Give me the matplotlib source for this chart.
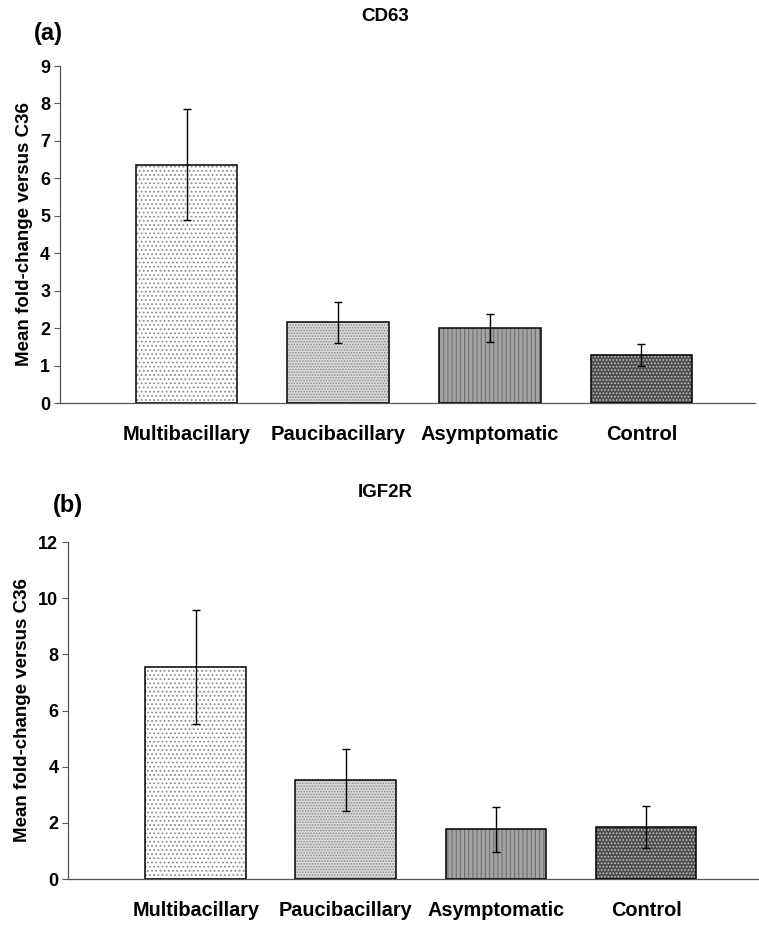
import matplotlib.pyplot as plt

plt.rcParams["font.family"] = ["Liberation Sans", "DejaVu Sans"]
plt.rcParams["hatch.linewidth"] = 0.8

GROUPS = ["Multibacillary", "Paucibacillary", "Asymptomatic", "Control"]

CD63_MEAN = [6.36, 2.16, 2.00, 1.28]
CD63_ERR = [1.48, 0.55, 0.37, 0.30]

IGF2R_MEAN = [7.55, 3.52, 1.78, 1.85]
IGF2R_ERR = [2.03, 1.10, 0.80, 0.75]

FACES = ["#ffffff", "#dadada", "#a4a4a4", "#4e4e4e"]
HATCH_COLORS = ["#8c8c8c", "#8a8a8a", "#707070", "#c4c4c4"]
HATCHES = ["....", "......", "||||", "....."]


def draw_panel(ax, means, errs, ymax, step, title, letter, left_lim,
               label_size, title_x, letter_xy):
    x = list(range(len(means)))
    # pattern fill first, then a black outline on top
    for i, val in enumerate(means):
        ax.bar(i, val, width=0.67, color=FACES[i], edgecolor=HATCH_COLORS[i],
               hatch=HATCHES[i], linewidth=0, zorder=2)
    ax.bar(x, means, width=0.67, fill=False, edgecolor="black",
           linewidth=1.1, zorder=3)
    ax.errorbar(x, means, yerr=errs, fmt="none", ecolor="black",
                elinewidth=1.0, capsize=3, capthick=1.0, zorder=4)

    ax.set_xlim(left_lim, 3.75)
    ax.set_ylim(0, ymax)
    ax.set_yticks(range(0, ymax + 1, step))
    ax.set_xticks(x)
    ax.set_xticklabels(GROUPS, fontsize=label_size, fontweight="bold")
    ax.tick_params(axis="x", length=0, pad=16)
    ax.tick_params(axis="y", length=4, width=0.8, color="#555555",
                   labelsize=13, pad=3)
    for lab in ax.get_yticklabels():
        lab.set_fontweight("bold")

    for side in ["top", "right"]:
        ax.spines[side].set_visible(False)
    for side in ["left", "bottom"]:
        ax.spines[side].set_color("#555555")
        ax.spines[side].set_linewidth(0.9)

    ax.set_ylabel("Mean fold-change versus C36", fontsize=13.5,
                  fontweight="bold", labelpad=5)
    ax.set_title(title, fontsize=13.5, fontweight="bold", pad=0, y=1.135,
                 x=title_x)
    ax.text(letter_xy[0], letter_xy[1], letter, transform=ax.transAxes,
            fontsize=17, fontweight="bold", ha="left", va="center")


fig = plt.figure(figsize=(7.59, 9.25), dpi=100)

ax_top = fig.add_axes([0.079, 0.5643, 0.916, 0.3643])
draw_panel(ax_top, CD63_MEAN, CD63_ERR, 9, 1, "CD63", "(a)", -0.835,
           14.5, 0.468, (-0.038, 1.098))

ax_bot = fig.add_axes([0.0896, 0.0497, 0.91, 0.3643])
draw_panel(ax_bot, IGF2R_MEAN, IGF2R_ERR, 12, 2, "IGF2R", "(b)", -0.85,
           14.3, 0.459, (-0.022, 1.107))

fig.savefig("out.png", dpi=100)
